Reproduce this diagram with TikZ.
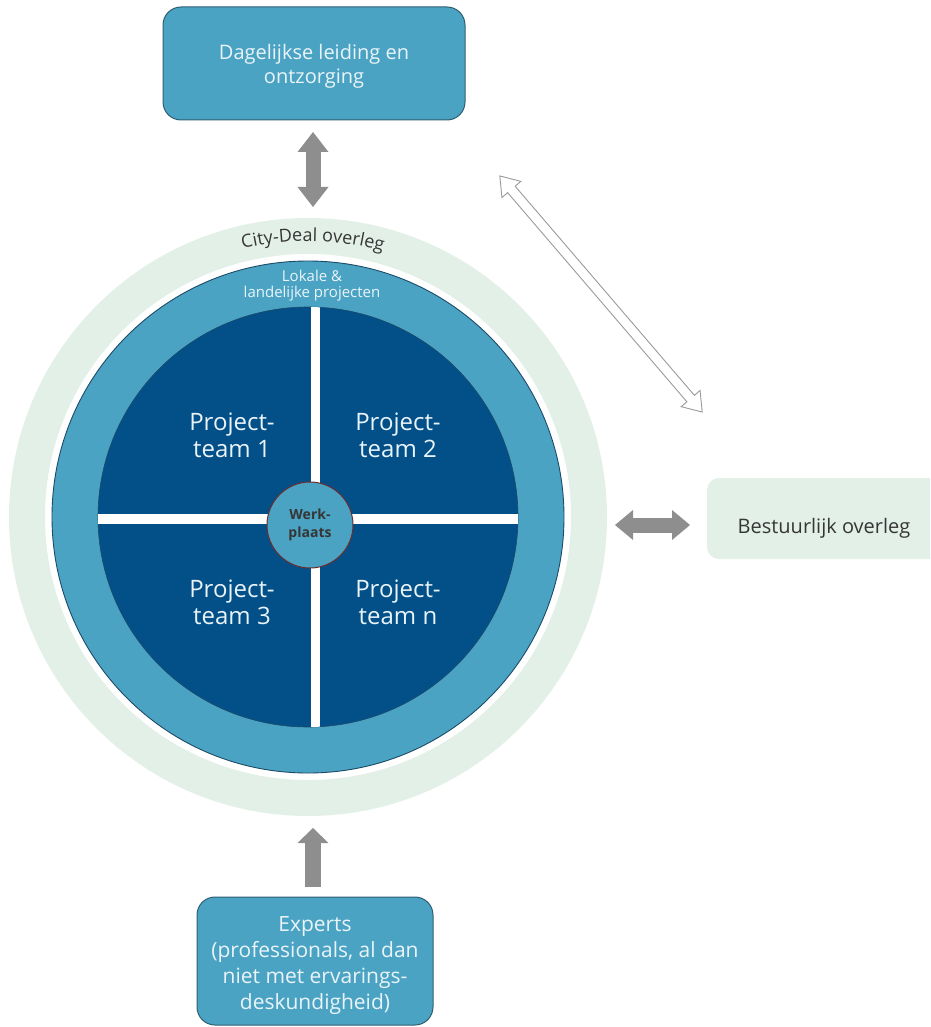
\documentclass[tikz,border=0pt]{standalone}
\usepackage{fontspec}
\setmainfont{Open Sans}
\usepackage{xcolor}
\usepackage{tikz}
\usetikzlibrary{arrows.meta,shapes.arrows,decorations.text,calc}
\definecolor{ringgreen}{HTML}{E2F0E8}
\definecolor{midblue}{HTML}{4BA3C4}
\definecolor{deepblue}{HTML}{035089}
\definecolor{edgeblue}{HTML}{1D4A66}
\definecolor{boxedge}{HTML}{2E5E72}
\definecolor{werkedge}{HTML}{6E2C2C}
\definecolor{arrowgray}{HTML}{8E8E8E}
\definecolor{hollowgray}{HTML}{9A9A9A}
\definecolor{lighttext}{HTML}{EAF4F8}
\definecolor{darktext}{HTML}{363636}
\tikzstyle{green ring}=[draw=ringgreen, shape=circle, line width=36pt, minimum size=562pt, inner sep=0pt]
\tikzstyle{outer disc}=[fill=midblue, draw=edgeblue, line width=0.9pt, shape=circle, minimum size=512pt, inner sep=0pt]
\tikzstyle{inner disc}=[fill=deepblue, draw=edgeblue, line width=0.6pt, shape=circle, minimum size=420pt, inner sep=0pt]
\tikzstyle{werk node}=[fill=midblue, draw=werkedge, line width=1pt, shape=circle, minimum size=86pt, inner sep=0pt, align=center, text=darktext, font=\bfseries\fontsize{14}{18}\selectfont]
\tikzstyle{blue box}=[fill=midblue, draw=boxedge, line width=1pt, rounded corners=18pt]
\tikzstyle{green box}=[fill=ringgreen, rounded corners=12pt]
\tikzstyle{box text}=[text=lighttext, align=center]
\tikzstyle{team text}=[text=lighttext, align=center, font=\fontsize{24}{27}\selectfont]
\tikzstyle{small text}=[text=lighttext, align=center, font=\fontsize{15}{16}\selectfont]
\tikzstyle{cross edge}=[-, draw=white, line width=9.5pt]
\tikzstyle{gray edge}=[<->, draw=arrowgray, line width=15pt, >={Triangle[length=20pt,width=31pt,line width=0pt 0 0]}]
\tikzstyle{hollow arrow}=[shape=double arrow, draw=hollowgray, fill=white, line width=0.9pt, inner xsep=0pt, inner ysep=4.5pt, double arrow head extend=7.5pt, double arrow tip angle=70]
\pgfdeclarelayer{nodelayer}
\pgfdeclarelayer{edgelayer}
\pgfsetlayers{main,nodelayer,edgelayer}
\begin{document}
\begin{tikzpicture}[x=1pt, y=-1pt]
	\useasboundingbox (0,0) rectangle (930,1027);
	\begin{pgfonlayer}{nodelayer}
		\begin{scope}
			\clip (0,0) rectangle (930,1027);
			\node [style=green ring] (0) at (308, 517) {};
			\node [style=outer disc] (1) at (308, 517) {};
			\node [style=inner disc] (2) at (308, 517) {};
			\begin{scope}
				\clip (2.center) circle [radius=210pt];
				\draw [style=cross edge] (315.5, 290) -- (315.5, 745);
				\draw [style=cross edge] (80, 519) -- (540, 519);
			\end{scope}
			\node [style=werk node] (3) at (310, 525) {Werk-\\plaats};
			\node [style=team text] (4) at (232, 435) {Project-\\team 1};
			\node [style=team text] (5) at (398, 435) {Project-\\team 2};
			\node [style=team text] (6) at (232, 602) {Project-\\team 3};
			\node [style=team text] (7) at (398, 602) {Project-\\team n};
			\node [style=small text] (8) at (312, 286) {Lokale \&\\landelijke projecten};
			\path [decorate, decoration={text along path, text={|\fontsize{18}{20}\selectfont|City-Deal overleg}, text align=center, text color=darktext}]
				(0.center) ++(-129:276) arc [start angle=-129, end angle=-49, radius=276];
			\node [style=blue box, minimum width=302pt, minimum height=113pt] (9) at (314, 63.5) {};
			\node [style=box text, font=\fontsize{20}{24}\selectfont] (10) at (314, 66) {Dagelijkse leiding en\\ontzorging};
			\node [style=blue box, minimum width=236pt, minimum height=128pt] (11) at (315, 961) {};
			\node [style=box text, font=\fontsize{21}{26}\selectfont] (12) at (315, 966) {Experts\\(professionals, al dan\\niet met ervarings-\\deskundigheid)};
			\node [style=green box, minimum width=234pt, minimum height=81pt] (13) at (824, 518.5) {};
			\node [text=darktext, font=\fontsize{20}{24}\selectfont, anchor=base] (14) at (824, 533) {Bestuurlijk overleg};
		\end{scope}
	\end{pgfonlayer}
	\begin{pgfonlayer}{edgelayer}
		\coordinate (15) at (313, 132);
		\coordinate (16) at (313, 207);
		\coordinate (17) at (615, 525);
		\coordinate (18) at (690, 525);
		\coordinate (19) at (313, 887);
		\coordinate (20) at (313, 828);
		\coordinate (21) at (500, 176);
		\coordinate (22) at (702, 412);
		\draw [style=gray edge] (15) to (16);
		\draw [style=gray edge, >={Triangle[length=18pt,width=30pt,line width=0pt 0 0]}] (17) to (18);
		\draw [style=gray edge, -{Triangle[length=15pt,width=31pt,line width=0pt 0 0]}, line width=16pt] (19) to (20);
		\node [style=hollow arrow, minimum height=311pt, rotate=-49.4] (23) at ($(21)!0.5!(22)$) {};
	\end{pgfonlayer}
\end{tikzpicture}
\end{document}
